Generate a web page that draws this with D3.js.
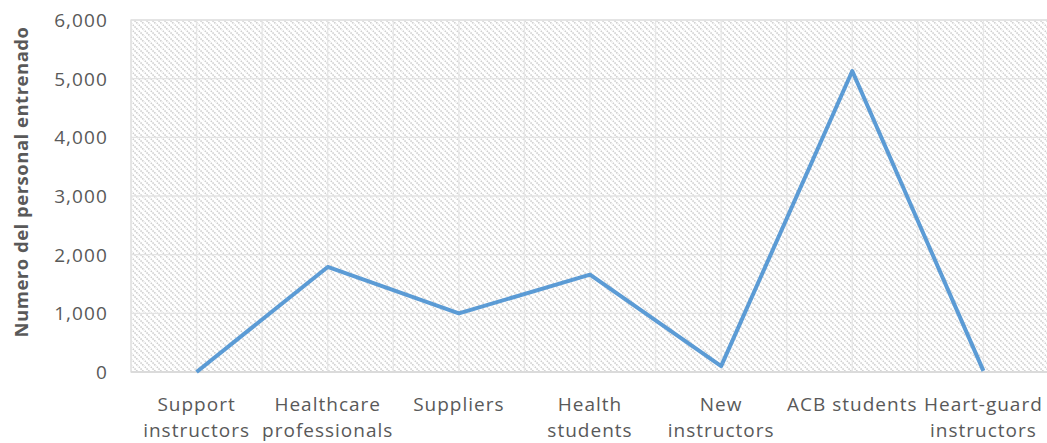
<!DOCTYPE html>
<html><head><meta charset="utf-8">
<script src="https://cdn.jsdelivr.net/npm/d3@7"></script>
<style>body{margin:0;background:#fff;overflow:hidden}</style>
</head><body><svg id="c" width="1047" height="443"></svg>
<script>
const categories = [["Support","instructors"],["Healthcare","professionals"],["Suppliers"],["Health","students"],["New","instructors"],["ACB students"],["Heart-guard","instructors"]];
const values = [0, 1790, 1000, 1660, 100, 5130, 20];
const yTicks = [0,1000,2000,3000,4000,5000,6000];
const yTitle = "Numero del personal entrenado";

const svg = d3.select("#c");
const L = 131, R = 1049, T = 20, B = 372;
const x = d3.scaleBand().domain(d3.range(categories.length)).range([L, R]);
const y = d3.scaleLinear().domain([0, 6000]).range([B, T]);
const font = "'Open Sans', 'Liberation Sans', sans-serif";

const defs = svg.append("defs");
const pat = defs.append("pattern").attr("id","hatch").attr("patternUnits","userSpaceOnUse")
  .attr("width",6).attr("height",6);
pat.append("rect").attr("width",6).attr("height",6).attr("fill","#fff");
pat.append("path").attr("d","M-1,-1 L7,7 M-1,5 L1,7 M5,-1 L7,1").attr("stroke","#cccccc").attr("stroke-width",1.5).attr("stroke-dasharray","1.5,1");

svg.append("rect").attr("x",L).attr("y",T).attr("width",R-L).attr("height",B-T).attr("fill","url(#hatch)");

svg.append("g").selectAll("line").data(yTicks).join("line")
  .attr("x1",L).attr("x2",R).attr("y1",d=>y(d)).attr("y2",d=>y(d))
  .attr("stroke","#e3e3e3").attr("stroke-width",1.3);
const vx = [];
categories.forEach((c,i)=>{ vx.push(x(i)); vx.push(x(i)+x.bandwidth()/2); });
svg.append("g").selectAll("line").data(vx).join("line")
  .attr("x1",d=>d).attr("x2",d=>d).attr("y1",T).attr("y2",B)
  .attr("stroke","#e6e6e6").attr("stroke-width",1.3);
svg.append("rect").attr("x",L).attr("y",T).attr("width",R-L).attr("height",B-T)
  .attr("fill","none").attr("stroke","#e0e0e0").attr("stroke-width",1.3);
svg.append("line").attr("x1",L).attr("x2",R).attr("y1",B).attr("y2",B).attr("stroke","#d9d9d9").attr("stroke-width",1.5);

svg.append("g").selectAll("text").data(yTicks).join("text")
  .attr("x",108).attr("y",d=>y(d)).attr("dy","0.36em").attr("text-anchor","end")
  .attr("font-family",font).attr("font-size",19).attr("letter-spacing","1.1px").attr("fill","#595959")
  .text(d=>d3.format(",")(d));

const xl = svg.append("g").selectAll("text").data(categories).join("text")
  .attr("text-anchor","middle").attr("font-family",font).attr("font-size",19).attr("letter-spacing","1px").attr("fill","#595959");
xl.each(function(c,i){
  const t = d3.select(this);
  c.forEach((s,j)=>t.append("tspan").attr("x",x(i)+x.bandwidth()/2).attr("y",411+j*26).text(s));
});

svg.append("text").attr("transform",`translate(28,182) rotate(-90)`)
  .attr("text-anchor","middle").attr("font-family",font).attr("font-size",18.5).attr("font-weight","bold")
  .attr("letter-spacing","0.5px").attr("fill","#595959").text(yTitle);

svg.append("path").datum(values)
  .attr("d", d3.line().x((d,i)=>x(i)+x.bandwidth()/2).y(d=>y(d)))
  .attr("fill","none").attr("stroke","#5b9bd5").attr("stroke-width",4).attr("stroke-linejoin","round");
</script></body></html>
